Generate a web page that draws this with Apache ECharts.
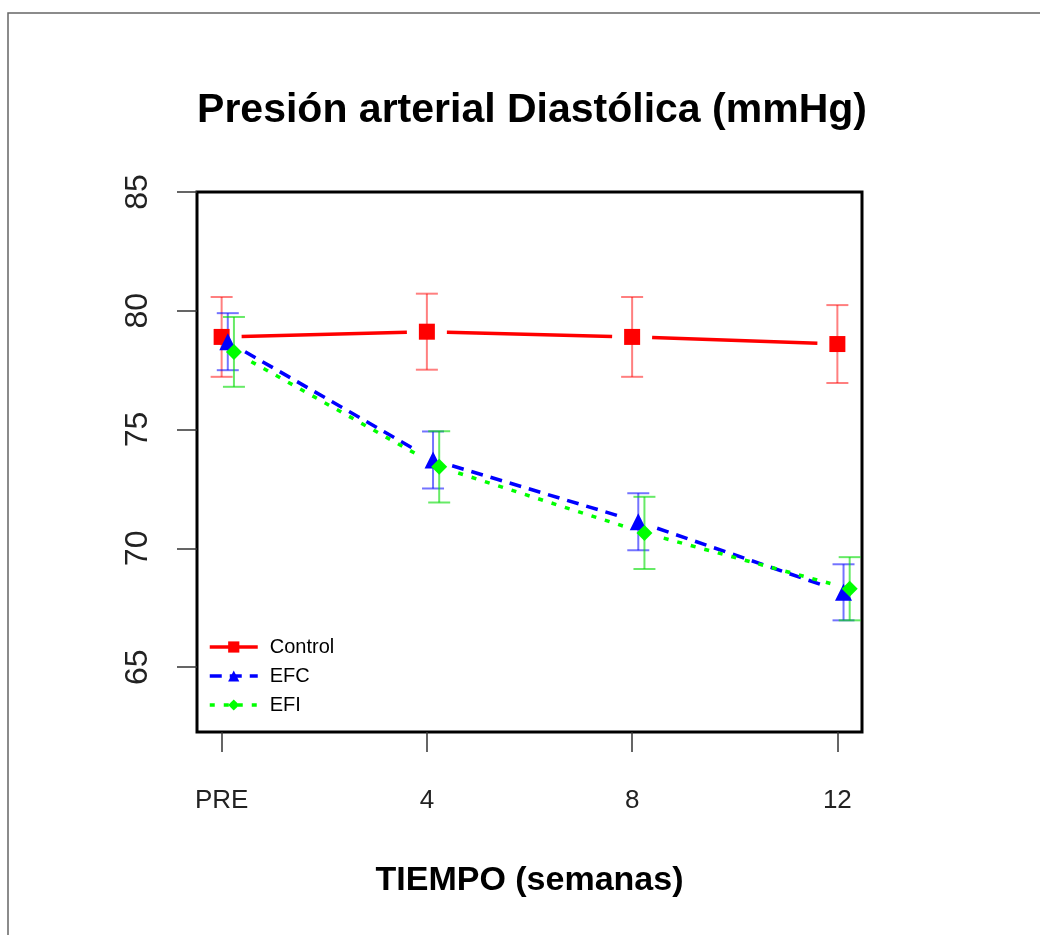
<!DOCTYPE html>
<html style="height: 100%">
<head>
    <meta charset="UTF-8">
    <title>Presión arterial Diastólica</title>
    <script type="text/javascript" src="https://cdn.jsdelivr.net/npm/echarts@6/dist/echarts.min.js"></script>
</head>
<body style="height: 100%; margin: 0; background: #fff">
    <div id="container" style="width: 1040px; height: 935px"></div>

    <script type="text/javascript">
        // datos (media y error por semana)
        var tiempos = ['PRE', '4', '8', '12'];
        var grupos = ['Control', 'EFC', 'EFI'];
        var controlMedia = [78.9, 79.12, 78.9, 78.6];
        var controlError = [1.68, 1.6, 1.68, 1.64];
        var efcMedia = [78.7, 73.72, 71.12, 68.15];
        var efcError = [1.2, 1.2, 1.2, 1.18];
        var efiMedia = [78.27, 73.43, 70.65, 68.3];
        var efiError = [1.47, 1.5, 1.52, 1.33];
        var yTicks = [65, 70, 75, 80, 85];

        var fuente = "'Liberation Sans', Arial, sans-serif";
        var dom = document.getElementById('container');
        var myChart = echarts.init(dom, null, { renderer: 'canvas' });

        // cada grupo va un poco desplazado en x para que no se tapen
        function puntos(media, dx) {
            return media.map(function (v, i) { return [i + dx, v]; });
        }

        // barras de error: linea vertical con dos topes
        function barrasError(name, media, err, dx, color) {
            return {
                type: 'custom',
                name: name + ' err',
                z: 2,
                silent: true,
                data: media.map(function (v, i) { return [i + dx, v - err[i], v + err[i]]; }),
                renderItem: function (params, api) {
                    var lo = api.coord([api.value(0), api.value(1)]);
                    var hi = api.coord([api.value(0), api.value(2)]);
                    var w = 11;
                    var st = { stroke: color, lineWidth: 2 };
                    return {
                        type: 'group',
                        children: [
                            { type: 'line', shape: { x1: lo[0], y1: lo[1], x2: hi[0], y2: hi[1] }, style: st },
                            { type: 'line', shape: { x1: lo[0] - w, y1: lo[1], x2: lo[0] + w, y2: lo[1] }, style: st },
                            { type: 'line', shape: { x1: hi[0] - w, y1: hi[1], x2: hi[0] + w, y2: hi[1] }, style: st }
                        ]
                    };
                }
            };
        }

        // tramos de linea cortados junto a cada punto (como type = "b" en R)
        function tramos(name, media, dx, color, dash) {
            var d = [];
            for (var i = 0; i < media.length - 1; i++) {
                d.push([i + dx, media[i], i + 1 + dx, media[i + 1]]);
            }
            return {
                type: 'custom',
                name: name + ' linea',
                z: 3,
                silent: true,
                data: d,
                renderItem: function (params, api) {
                    var a = api.coord([api.value(0), api.value(1)]);
                    var b = api.coord([api.value(2), api.value(3)]);
                    var dxp = b[0] - a[0], dyp = b[1] - a[1];
                    var len = Math.sqrt(dxp * dxp + dyp * dyp);
                    var g = 20 / len;
                    return {
                        type: 'line',
                        shape: {
                            x1: a[0] + dxp * g, y1: a[1] + dyp * g,
                            x2: b[0] - dxp * g, y2: b[1] - dyp * g
                        },
                        style: { stroke: color, lineWidth: 3.5, lineDash: dash }
                    };
                }
            };
        }

        function puntosSerie(name, media, dx, color, symbol, size) {
            return {
                type: 'line',
                name: name,
                z: 4,
                data: puntos(media, dx),
                symbol: symbol,
                symbolSize: size,
                itemStyle: { color: color },
                lineStyle: { width: 0, opacity: 0 },
                animation: false
            };
        }

        var option = {
            animation: false,
            backgroundColor: '#fff',
            title: {
                text: 'Presión arterial Diastólica (mmHg)',
                left: 527,
                textAlign: 'center',
                top: 85,
                textStyle: { fontFamily: fuente, fontSize: 41, fontWeight: 'bold', color: '#000' }
            },
            graphic: [{
                type: 'rect',
                shape: { x: 8, y: 13, width: 1100, height: 1000 },
                style: { fill: 'none', stroke: '#666', lineWidth: 1.5 },
                silent: true
            }],
            legend: {
                orient: 'vertical',
                left: 203,
                top: 632,
                itemWidth: 48,
                itemHeight: 14,
                itemGap: 9,
                textStyle: { fontFamily: fuente, fontSize: 20, color: '#000', padding: [0, 0, 0, 7] },
                data: [
                    { name: 'Control', lineStyle: { color: '#ff0000', width: 3.5, type: 'solid', opacity: 1 } },
                    { name: 'EFC', lineStyle: { color: '#0000ff', width: 3.5, type: [12, 8], opacity: 1 } },
                    { name: 'EFI', lineStyle: { color: '#00ff00', width: 3.5, type: [5, 9], opacity: 1 } }
                ]
            },
            grid: { left: 197, right: 178, top: 192, bottom: 203, show: true, borderColor: '#000', borderWidth: 3, backgroundColor: 'transparent' },
            xAxis: {
                type: 'value',
                min: -0.12,
                max: 3.12,
                name: 'TIEMPO (semanas)',
                nameLocation: 'middle',
                nameGap: 132,
                nameTextStyle: { fontFamily: fuente, fontSize: 34, fontWeight: 'bold', color: '#000' },
                splitLine: { show: false },
                axisLine: { show: false, onZero: false },
                axisTick: { show: true, length: 20, lineStyle: { color: '#333', width: 1.5 }, customValues: [0, 1, 2, 3] },
                axisLabel: {
                    customValues: [0, 1, 2, 3],
                    margin: 56,
                    fontFamily: fuente, fontSize: 26, color: '#222',
                    formatter: function (v) { return tiempos[Math.round(v)]; }
                }
            },
            yAxis: {
                type: 'value',
                min: 62.27,
                max: 85,
                splitLine: { show: false },
                axisLine: { show: false, onZero: false },
                axisTick: { show: true, length: 20, lineStyle: { color: '#333', width: 1.5 }, customValues: yTicks },
                axisLabel: {
                    customValues: yTicks,
                    rotate: 90,
                    margin: 43,
                    fontFamily: fuente, fontSize: 32, color: '#222'
                }
            },
            series: [
                barrasError('Control', controlMedia, controlError, 0, 'rgba(255,0,0,0.5)'),
                barrasError('EFC', efcMedia, efcError, 0.03, 'rgba(0,0,255,0.55)'),
                barrasError('EFI', efiMedia, efiError, 0.06, 'rgba(0,220,0,0.6)'),
                tramos('Control', controlMedia, 0, '#ff0000', null),
                tramos('EFC', efcMedia, 0.03, '#0000ff', [12, 8]),
                tramos('EFI', efiMedia, 0.06, '#00ff00', [5, 9]),
                puntosSerie('Control', controlMedia, 0, '#ff0000', 'rect', 16),
                puntosSerie('EFC', efcMedia, 0.03, '#0000ff', 'triangle', 17),
                puntosSerie('EFI', efiMedia, 0.06, '#00ff00', 'diamond', 16)
            ]
        };

        myChart.setOption(option);
    </script>
</body>
</html>
